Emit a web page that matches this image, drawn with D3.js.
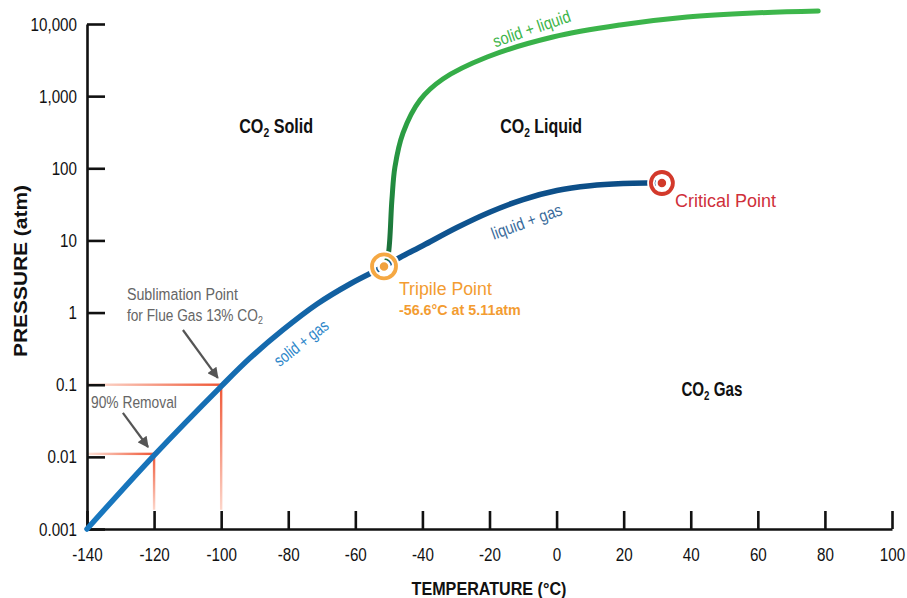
<!DOCTYPE html>
<html>
<head>
<meta charset="utf-8">
<script src="https://cdn.jsdelivr.net/npm/d3@7"></script>
<style>
    body { margin: 0; background: #fff; }
    svg { display: block; font-family: "Liberation Sans", Arial, sans-serif; }
</style>
</head>
<body>
<div id="chart"></div>
<script>
// values: [temperature °C, pressure atm]
const tempTicks = [-140, -120, -100, -80, -60, -40, -20, 0, 20, 40, 60, 80, 100];
const pressureTicks = [0.001, 0.01, 0.1, 1, 10, 100, 1000, 10000];
const pressureLabels = ["0.001", "0.01", "0.1", "1", "10", "100", "1,000", "10,000"];

const triplePoint = [-51.45, 4.36];
const criticalPoint = [31.4, 62.5];

const solidGas = [
    [-140, 0.001], [-120, 0.0105], [-100, 0.095], [-91.4, 0.234], [-81.6, 0.574],
    [-71.4, 1.315], [-61.6, 2.49], triplePoint
];
const liquidGas = [
    triplePoint, [-46.7, 5.8], [-39.8, 8.51], [-29.7, 15.1], [-19.8, 24.8],
    [-10, 36.9], [0.1, 49.2], [10, 57.2], [19.8, 61.4], [27, 62.5], criticalPoint
];
const solidLiquid = [
    triplePoint, [-50.3, 5.9], [-49.1, 36.4], [-48.2, 104], [-45.8, 308], [-40.7, 885],
    [-33.9, 1730], [-20.7, 3490], [-1.1, 6600], [18.9, 9680], [38.9, 12500],
    [58.6, 14200], [78, 15100]
];

// flue gas sublimation points (13% CO2 and after 90% removal)
const sublimationPoints = [[-100, 0.1], [-120, 0.011]];

const phaseLabels = [
    {name: " Solid", t: -83.6, p: 308, w: 74},
    {name: " Liquid", t: -4.6, p: 308, w: 82},
    {name: " Gas", t: 46.3, p: 0.07, w: 61}
];

const curveLabels = [
    {text: "solid + gas", t: -75.9, p: 0.366, angle: -38, w: 64, color: "#2c86c9"},
    {text: "liquid + gas", t: -8.8, p: 17.5, angle: -20, w: 74, color: "#3b6c9c"},
    {text: "solid + liquid", t: -7.3, p: 8260, angle: -19, w: 81, color: "#3db54a"}
];

const width = 907, height = 598;

const x = d3.scaleLinear().domain([-140, 100]).range([87, 892]);
const y = d3.scaleLog().domain([0.001, 10000]).range([529, 24]);

const svg = d3.select("#chart").append("svg")
    .attr("width", width)
    .attr("height", height);

const defs = svg.append("defs");

// squeeze text horizontally to imitate the condensed face of the original
function fit(sel, px, py, target, angle) {
    sel.attr("x", 0).attr("y", 0);
    let k = target / sel.node().getComputedTextLength();
    sel.attr("transform", `translate(${px},${py}) rotate(${angle || 0}) scale(${k},1)`);
    return sel;
}

function gradient(id, x1, y1, x2, y2, stops) {
    let g = defs.append("linearGradient")
        .attr("id", id)
        .attr("gradientUnits", "userSpaceOnUse")
        .attr("x1", x1).attr("y1", y1).attr("x2", x2).attr("y2", y2);
    stops.forEach(s => g.append("stop").attr("offset", s[0]).attr("stop-color", s[1]));
}

gradient("blueGrad", x(-140), 0, x(criticalPoint[0]), 0,
    [[0, "#1878c0"], [0.35, "#1468ab"], [0.55, "#0f5592"], [1, "#0c4c84"]]);
gradient("greenGrad", 0, y(triplePoint[1]), 0, y(15000),
    [[0, "#1a6a3a"], [0.3, "#218a3f"], [0.7, "#33ab47"], [1, "#3db64b"]]);

defs.append("linearGradient").attr("id", "redH")
    .selectAll("stop").data([[0, "#fde2d8"], [1, "#ef5534"]]).join("stop")
    .attr("offset", d => d[0]).attr("stop-color", d => d[1]);
defs.append("linearGradient").attr("id", "redV")
    .attr("x1", 0).attr("y1", 0).attr("x2", 0).attr("y2", 1)
    .selectAll("stop").data([[0, "#ef5534"], [1, "#fdd6ca"]]).join("stop")
    .attr("offset", d => d[0]).attr("stop-color", d => d[1]);

defs.append("marker")
    .attr("id", "arrow")
    .attr("viewBox", "0 0 10 10")
    .attr("refX", 9).attr("refY", 5)
    .attr("markerWidth", 5.5).attr("markerHeight", 5)
    .attr("markerUnits", "strokeWidth")
    .attr("orient", "auto")
    .append("path")
    .attr("d", "M0,0 L10,5 L0,10 Z")
    .attr("fill", "#555");

// sublimation reference lines
sublimationPoints.forEach(d => {
    svg.append("rect")
        .attr("x", x(-140))
        .attr("y", y(d[1]) - 1.2)
        .attr("width", x(d[0]) - x(-140))
        .attr("height", 2.4)
        .attr("fill", "url(#redH)");
    svg.append("rect")
        .attr("x", x(d[0]) - 1.2)
        .attr("y", y(d[1]) - 1.2)
        .attr("width", 2.4)
        .attr("height", y(0.001) - 18 - y(d[1]))
        .attr("fill", "url(#redV)");
});

// axes
const tickK = 0.8;
const yAxis = d3.axisLeft(y)
    .tickValues(pressureTicks)
    .tickFormat((d, i) => pressureLabels[i])
    .tickSizeInner(-18)
    .tickSizeOuter(0)
    .tickPadding(10);

const xAxis = d3.axisBottom(x)
    .tickValues(tempTicks)
    .tickFormat(d => d)
    .tickSizeInner(-18)
    .tickSizeOuter(0)
    .tickPadding(18.5);

const gy = svg.append("g")
    .attr("transform", `translate(${x(-140)},0)`)
    .call(yAxis);
const gx = svg.append("g")
    .attr("transform", `translate(0,${y(0.001)})`)
    .call(xAxis);

[gx, gy].forEach(g => {
    g.attr("font-family", null).attr("font-size", null);
    g.selectAll("path.domain, line").attr("stroke", "#111").attr("stroke-width", 2.6);
    g.selectAll("text").attr("font-size", 19).attr("fill", "#111")
        .attr("transform", `scale(${tickK},1)`);
});
gy.selectAll("text").attr("x", -10 / tickK);

fit(svg.append("text")
    .attr("text-anchor", "middle")
    .attr("font-size", 19)
    .attr("font-weight", "bold")
    .attr("fill", "#111")
    .text("PRESSURE (atm)"), 27, 271, 172, -90);

fit(svg.append("text")
    .attr("text-anchor", "middle")
    .attr("font-size", 19)
    .attr("font-weight", "bold")
    .attr("fill", "#111")
    .text("TEMPERATURE (°C)"), 489, 595, 155);

// arrows to sublimation points
const arrows = [
    [[-111.4, 0.573], [-101, 0.124]],
    [[-129.3, 0.0406], [-121.8, 0.0137]]
];
svg.selectAll("line.arrow").data(arrows).join("line")
    .attr("class", "arrow")
    .attr("x1", d => x(d[0][0])).attr("y1", d => y(d[0][1]))
    .attr("x2", d => x(d[1][0])).attr("y2", d => y(d[1][1]))
    .attr("stroke", "#555")
    .attr("stroke-width", 2.2)
    .attr("marker-end", "url(#arrow)");

fit(svg.append("text").attr("font-size", 17).attr("fill", "#666")
    .text("Sublimation Point"), x(-128.1), y(1.49), 111);
let flue = svg.append("text").attr("font-size", 17).attr("fill", "#666");
flue.append("tspan").text("for Flue Gas 13% CO");
flue.append("tspan").attr("font-size", 11).attr("dy", 3).text("2");
fit(flue, x(-128.1), y(1.49) + 21, 136);

fit(svg.append("text").attr("font-size", 17).attr("fill", "#666")
    .text("90% Removal"), x(-138.8), y(0.0475), 86);

// phase curves
const line = d3.line()
    .x(d => x(d[0]))
    .y(d => y(d[1]))
    .curve(d3.curveCatmullRom.alpha(0.5));

svg.append("path")
    .attr("d", line(solidLiquid))
    .attr("fill", "none")
    .attr("stroke", "url(#greenGrad)")
    .attr("stroke-width", 5)
    .attr("stroke-linecap", "round");

svg.append("path")
    .attr("d", line(solidGas.concat(liquidGas.slice(1))))
    .attr("fill", "none")
    .attr("stroke", "url(#blueGrad)")
    .attr("stroke-width", 5.5)
    .attr("stroke-linecap", "round");

// curve labels
curveLabels.forEach(d => {
    fit(svg.append("text")
        .attr("text-anchor", "middle")
        .attr("dominant-baseline", "middle")
        .attr("font-size", 17)
        .attr("fill", d.color)
        .text(d.text), x(d.t), y(d.p), d.w, d.angle);
});

// phase region labels
phaseLabels.forEach(d => {
    let t = svg.append("text")
        .attr("text-anchor", "middle")
        .attr("font-size", 19.5)
        .attr("font-weight", "bold")
        .attr("fill", "#111");
    t.append("tspan").text("CO");
    t.append("tspan").attr("font-size", 12.5).attr("dy", 4).text("2");
    t.append("tspan").attr("dy", -4).text(d.name);
    fit(t, x(d.t), y(d.p), d.w);
});

// triple and critical points
function markPoint(p, r, color, dotColor) {
    let cx = x(p[0]), cy = y(p[1]);
    svg.append("circle").attr("cx", cx).attr("cy", cy).attr("r", r)
        .attr("fill", "none").attr("stroke", "#fff").attr("stroke-width", 7.5);
    svg.append("circle").attr("cx", cx).attr("cy", cy).attr("r", r)
        .attr("fill", "none").attr("stroke", color).attr("stroke-width", 3.8);
    svg.append("circle").attr("cx", cx).attr("cy", cy).attr("r", 5.5)
        .attr("fill", dotColor).attr("stroke", "#fff").attr("stroke-width", 2.5);
}
markPoint(triplePoint, 12, "#f5a843", "#f1a23e");
markPoint(criticalPoint, 11, "#d3392b", "#d13a2a");

fit(svg.append("text").attr("font-size", 19).attr("fill", "#f39c31")
    .text("Tripile Point"), x(-47), y(1.75), 93);
fit(svg.append("text").attr("font-size", 15).attr("font-weight", "bold").attr("fill", "#f39c31")
    .text("-56.6°C at 5.11atm"), x(-47), y(1.75) + 20, 122);

fit(svg.append("text").attr("font-size", 19).attr("fill", "#cf2f3a")
    .text("Critical Point"), x(35.3), y(29.1), 101);
</script>
</body>
</html>
